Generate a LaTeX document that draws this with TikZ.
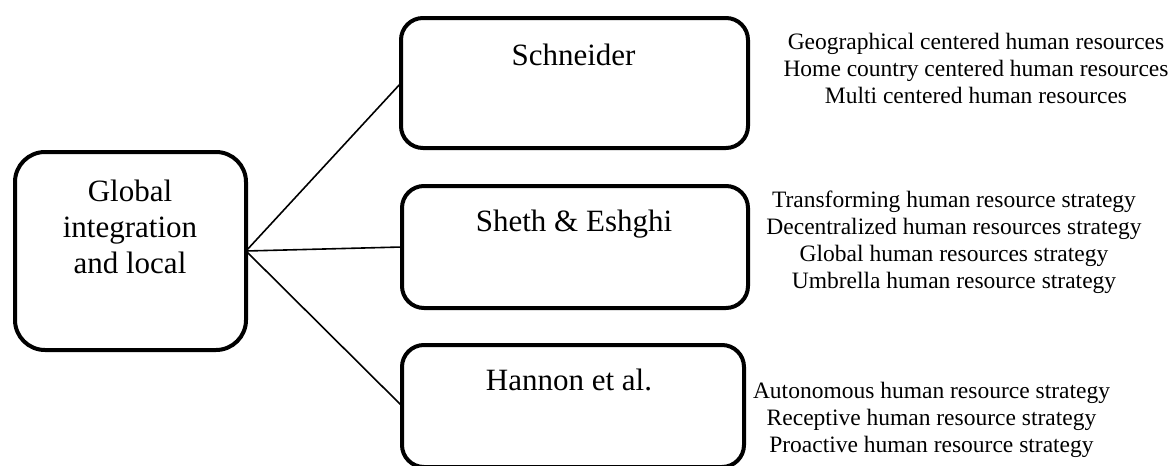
\documentclass[tikz,border=0pt]{standalone}
\usepackage{fontspec}
\setmainfont{Liberation Serif}
\begin{document}
\begin{tikzpicture}[x=1pt,y=-1pt,
  bigbox/.style={draw=black,line width=4pt,rounded corners=30pt,inner sep=0pt,outer sep=0pt},
  subbox/.style={draw=black,line width=4pt,rounded corners=22pt,inner sep=0pt,outer sep=0pt},
  boxlabel/.style={inner sep=0pt,anchor=base,align=center,font=\fontsize{31}{36}\selectfont},
  listtext/.style={inner sep=0pt,anchor=base,align=center,font=\fontsize{23.5}{27}\selectfont},
  link/.style={draw=black,line width=1.6pt}]
\useasboundingbox (0,0) rectangle (1176,466);
% boxes
\node[bigbox,minimum width=231pt,minimum height=198pt] (g) at (130.5,251) {};
\node[subbox,minimum width=347pt,minimum height=130pt] (s) at (574.5,83) {};
\node[subbox,minimum width=346pt,minimum height=122pt] (e) at (575,247) {};
\node[subbox,minimum width=342pt,minimum height=122pt] (h) at (573,406) {};
% box labels (base anchor = last line's baseline)
\node[boxlabel] (gt) at (130,273) {Global\\integration\\and local};
\node[boxlabel] (st) at (573.5,65) {Schneider};
\node[boxlabel] (et) at (574,231) {Sheth \& Eshghi};
\node[boxlabel] (ht) at (569,390) {Hannon et al.};
% connectors
\draw[link] (g.east) -- (s.west);
\draw[link] (g.east) -- (e.west);
\draw[link] (g.east) -- (h.west);
% lists
\node[listtext] (sl) at (976,103) {Geographical centered human resources\\Home country centered human resources\\Multi centered human resources};
\node[listtext] (el) at (954,288) {Transforming human resource strategy\\Decentralized human resources strategy\\Global human resources strategy\\Umbrella human resource strategy};
\node[listtext] (hl) at (931.5,452) {Autonomous human resource strategy\\Receptive human resource strategy\\Proactive human resource strategy};
\end{tikzpicture}
\end{document}
